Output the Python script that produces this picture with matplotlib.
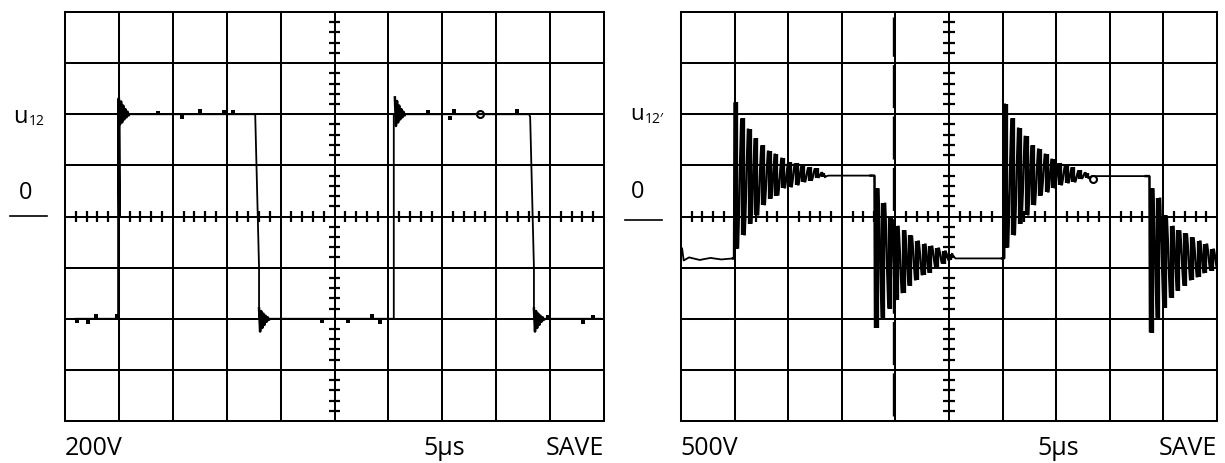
import numpy as np
import matplotlib
matplotlib.use("Agg")
import matplotlib.pyplot as plt

W, H = 1225, 463

# ---------- left screen: 200V/div, 5us/div (units = divisions) ----------
left_x = [0.20, 0.985, 0.985, 1.00, 1.00, 1.015, 1.015, 3.53, 3.53, 3.60, 3.60,
          6.10, 6.10, 8.61, 8.63, 8.70, 8.70, 9.93]
left_y = [-2.00, -2.00, 2.30, 0.00, 2.20, 0.00, 2.00, 2.00, 1.95, -1.00, -2.00,
          -2.00, 2.00, 2.00, 1.95, -1.00, -2.00, -2.00]

# small ringing blobs after each edge
left_ring_x0 = [1.00, 3.60, 6.12, 8.70]
left_ring_base = [2.00, -2.00, 2.00, -2.00]
left_ring_peaks = [
    [0.30, -0.20, 0.25, -0.16, 0.17, -0.10, 0.10, -0.06, 0.05, -0.02],
    [0.20, -0.25, 0.15, -0.18, 0.10, -0.12, 0.06, -0.06, 0.03, -0.02],
    [0.33, -0.23, 0.26, -0.16, 0.17, -0.10, 0.10, -0.06, 0.05, -0.02],
    [0.20, -0.25, 0.15, -0.18, 0.10, -0.12, 0.06, -0.06, 0.03, -0.02],
]
left_ring_step = 0.02

# noise specks on the trace
left_dot_x = [0.22, 0.43, 0.57, 0.96, 1.73, 2.17, 2.50, 2.95, 3.12,
              4.76, 5.25, 5.70, 5.84, 6.73, 7.14, 7.22, 8.39, 8.96, 9.61, 9.80]
left_dot_y = [-2.05, -2.06, -1.94, -1.95, 2.03, 1.94, 2.06, 2.04, 2.05,
              -2.05, -2.05, -1.94, -2.07, 2.04, 1.93, 2.06, 2.06, -1.96, -2.07, -1.96]
left_loop = (7.70, 2.00)

# ---------- right screen: 500V/div, 5us/div ----------
right_start_x = [0.00, 0.02, 0.05, 0.15, 0.35, 0.55, 0.75, 0.97]
right_start_y = [-0.72, -0.62, -0.86, -0.80, -0.85, -0.81, -0.84, -0.82]

half_period = 0.0625
ring_x0 = [1.00, 3.62, 6.04, 8.75]
ring_peaks = [
    [2.23, -0.63, 1.92, -0.37, 1.72, -0.14, 1.53, 0.02, 1.39, 0.22, 1.29, 0.35,
     1.23, 0.41, 1.15, 0.55, 1.06, 0.57, 1.04, 0.61, 1.00, 0.67, 0.96, 0.70,
     0.94, 0.76, 0.86, 0.78],
    [-2.18, 0.55, -1.98, 0.27, -1.80, -0.02, -1.64, -0.18, -1.50, -0.27, -1.35,
     -0.37, -1.25, -0.47, -1.15, -0.53, -1.10, -0.57, -1.00, -0.61, -0.92,
     -0.67, -0.86, -0.74],
    [2.21, -0.61, 1.92, -0.37, 1.74, -0.14, 1.58, 0.02, 1.39, 0.22, 1.33, 0.41,
     1.23, 0.47, 1.13, 0.55, 1.04, 0.61, 1.00, 0.65, 0.96, 0.67, 0.90, 0.74,
     0.86, 0.76],
    [-2.27, 0.55, -1.98, 0.37, -1.78, 0.02, -1.59, -0.18, -1.45, -0.27, -1.35,
     -0.33, -1.25, -0.41, -1.19, -0.47, -1.11, -0.53, -1.06, -0.63, -1.02, -0.80],
]
flat_level = [0.80, -0.82, 0.79]
flat_end = [3.54, 5.99, 8.67]
right_loop = (7.69, 0.74)
cursor_x = 3.96

# ---------- labels ----------
left_labels = {"volt": "200V", "time": "5µs", "mode": "SAVE"}
right_labels = {"volt": "500V", "time": "5µs", "mode": "SAVE"}

FONT = ["Open Sans", "DejaVu Sans"]
GRID_LW = 1.45


def px(x, y):
    return x / W, 1 - y / H


def draw_screen(ax):
    ax.set_xlim(0, 10)
    ax.set_ylim(-4, 4)
    ax.axis("off")
    for gx in range(11):
        ax.plot([gx, gx], [-4, 4], color="black", lw=GRID_LW, clip_on=False,
                solid_capstyle="projecting")
    for gy in range(-4, 5):
        ax.plot([0, 10], [gy, gy], color="black", lw=GRID_LW, clip_on=False,
                solid_capstyle="projecting")
    t = np.round(np.arange(0.2, 10, 0.2), 1)
    t = t[np.abs(t - np.round(t)) > 1e-6]
    ax.vlines(t, -0.11, 0.11, color="black", lw=1.6)
    s = np.round(np.arange(-3.8, 4, 0.2), 1)
    s = s[np.abs(s - np.round(s)) > 1e-6]
    ax.hlines(s, 4.89, 5.11, color="black", lw=1.6)


fig = plt.figure(figsize=(W / 100, H / 100), dpi=100)
fig.patch.set_facecolor("white")

axL = fig.add_axes([65 / W, 1 - 421 / H, (604 - 65) / W, (421 - 12) / H])
axR = fig.add_axes([681 / W, 1 - 421 / H, (1217 - 681) / W, (421 - 12) / H])
draw_screen(axL)
draw_screen(axR)

# left trace
axL.plot(left_x, left_y, color="black", lw=1.3)
for x0, base, pk in zip(left_ring_x0, left_ring_base, left_ring_peaks):
    rx = x0 + left_ring_step * np.arange(len(pk))
    axL.plot(rx, base + np.array(pk), color="black", lw=1.8)
axL.scatter(left_dot_x, left_dot_y, s=5, marker="s", color="black", lw=0)
axL.plot(*left_loop, marker="o", ms=5, mfc="none", mec="black", mew=1.5)

# right trace: start, then ringing bursts, then flat tops
axR.plot(right_start_x, right_start_y, color="black", lw=1.3)
prev = (right_start_x[-1], right_start_y[-1])
for i, (x0, pk) in enumerate(zip(ring_x0, ring_peaks)):
    pk = np.asarray(pk)
    xs = x0 + half_period * np.arange(len(pk))
    bx = np.concatenate([[prev[0], x0 - 0.01], xs])
    by = np.concatenate([[prev[1], prev[1]], pk])
    axR.plot(bx, by, color="black", lw=1.8, solid_joinstyle="bevel")
    # the smeared scope trace: one heavy stroke per cycle
    n = len(pk) // 2
    cx = xs[0:2 * n:2] + half_period / 2
    lo = np.minimum(pk[0:2 * n:2], pk[1:2 * n:2])
    hi = np.maximum(pk[0:2 * n:2], pk[1:2 * n:2])
    axR.vlines(cx, lo, hi, color="black", lw=3.1)
    if i < len(flat_level):
        fx = [xs[-1], xs[-1] + half_period, flat_end[i]]
        fy = [pk[-1], flat_level[i], flat_level[i]]
        axR.plot(fx, fy, color="black", lw=1.3)
        prev = (flat_end[i], flat_level[i])
axR.plot(*right_loop, marker="o", ms=5, mfc="none", mec="black", mew=1.5)
axR.plot([cursor_x, cursor_x], [-3.9, 3.9], color="black", lw=1.0,
         dashes=(31, 6))

# side labels
fig.text(*px(13, 123), "u", fontsize=17, family=FONT, va="baseline")
fig.text(*px(29, 125), "12", fontsize=10, family=FONT, va="baseline")
fig.text(*px(26, 199), "0", fontsize=17, family=FONT, va="baseline", ha="center")
fig.add_artist(plt.Line2D([10 / W, 47 / W], [1 - 216 / H] * 2, color="black", lw=1.2))

fig.text(*px(630, 120), "u", fontsize=16, family=FONT, va="baseline")
fig.text(*px(645, 123), "12′", fontsize=10, family=FONT, va="baseline")
fig.text(*px(638, 198), "0", fontsize=17, family=FONT, va="baseline", ha="center")
fig.add_artist(plt.Line2D([625 / W, 662 / W], [1 - 220 / H] * 2, color="black", lw=1.2))

# bottom readouts
for lab, xv, xt, xs in [(left_labels, 65, 423, 604), (right_labels, 680, 1037, 1217)]:
    fig.text(*px(xv, 455), lab["volt"], fontsize=18, family=FONT, va="baseline")
    fig.text(*px(xt, 455), lab["time"], fontsize=18, family=FONT, va="baseline")
    fig.text(*px(xs, 455), lab["mode"], fontsize=18, family=FONT, va="baseline",
             ha="right")

fig.savefig("out.png", dpi=100, facecolor="white")
plt.close(fig)
